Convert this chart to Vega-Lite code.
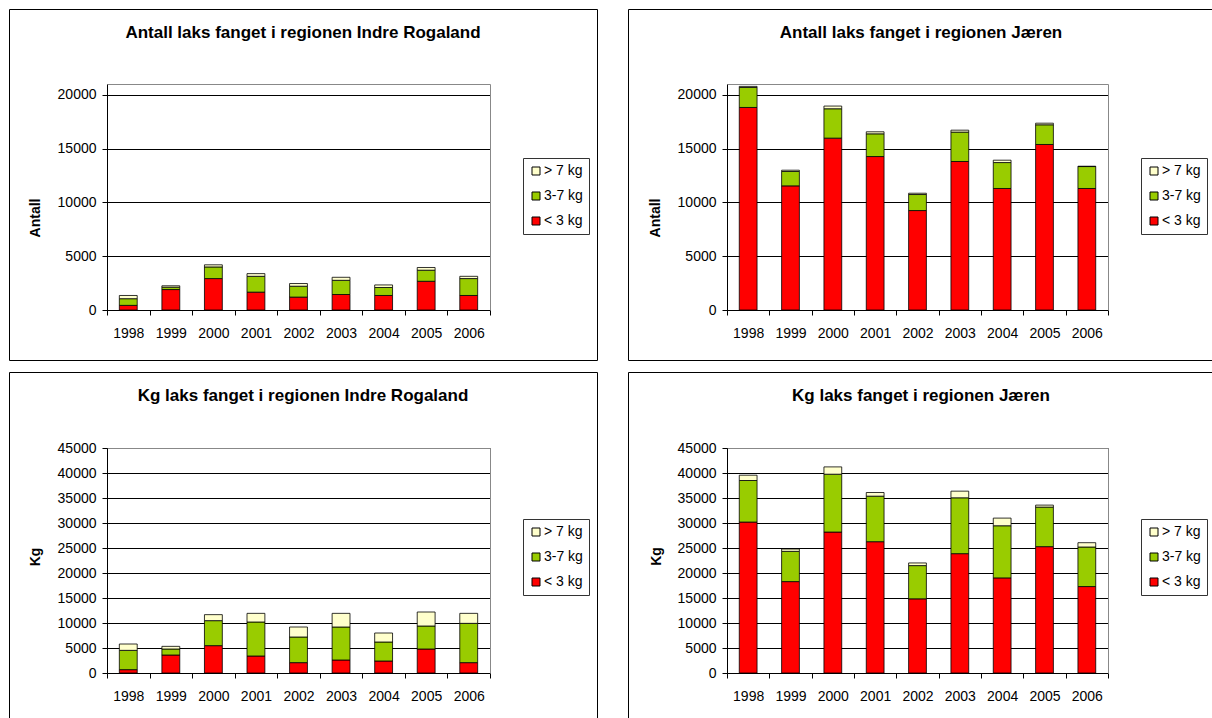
{
  "$schema": "https://vega.github.io/schema/vega-lite/v6.json",
  "background": "white",
  "padding": {"left": 8, "top": 8, "right": 0, "bottom": 0},
  "config": {
    "view": {"stroke": "#000", "strokeWidth": 1},
    "font": "Liberation Sans",
    "title": {"font": "Liberation Sans", "fontSize": 17, "fontWeight": "bold", "color": "#000", "anchor": "middle", "frame": "group", "offset": -33, "baseline": "alphabetic"},
    "axis": {"labelFont": "Liberation Sans", "labelFontSize": 14, "labelColor": "#000", "domainColor": "#000", "domainWidth": 1, "tickColor": "#000", "tickSize": 5, "tickWidth": 1, "gridColor": "#000", "gridWidth": 1, "gridOpacity": 1, "titleFont": "Liberation Sans", "titleFontSize": 14, "titleFontWeight": "bold", "titleColor": "#000"},
    "axisX": {"labelAngle": 0, "tickBand": "extent", "grid": false, "labelPadding": 11},
    "axisY": {"grid": true, "format": "d", "labelPadding": 6, "titleAngle": -90, "titleAlign": "center", "titleBaseline": "middle"},
    "legend": {"orient": "none", "symbolType": "square", "symbolSize": 64, "symbolStrokeColor": "#000", "symbolStrokeWidth": 1, "labelFont": "Liberation Sans", "labelFontSize": 14, "labelColor": "#000", "strokeColor": "#333", "padding": 6, "rowPadding": 11, "labelOffset": 1, "fillColor": "#fff"}
  },
  "datasets": {
    "A": [
      {"year": "1998", "size": "< 3 kg", "n": 430, "r": 1}, {"year": "1998", "size": "3-7 kg", "n": 620, "r": 2}, {"year": "1998", "size": "> 7 kg", "n": 300, "r": 3},
      {"year": "1999", "size": "< 3 kg", "n": 1900, "r": 1}, {"year": "1999", "size": "3-7 kg", "n": 220, "r": 2}, {"year": "1999", "size": "> 7 kg", "n": 130, "r": 3},
      {"year": "2000", "size": "< 3 kg", "n": 2920, "r": 1}, {"year": "2000", "size": "3-7 kg", "n": 1080, "r": 2}, {"year": "2000", "size": "> 7 kg", "n": 200, "r": 3},
      {"year": "2001", "size": "< 3 kg", "n": 1660, "r": 1}, {"year": "2001", "size": "3-7 kg", "n": 1470, "r": 2}, {"year": "2001", "size": "> 7 kg", "n": 250, "r": 3},
      {"year": "2002", "size": "< 3 kg", "n": 1200, "r": 1}, {"year": "2002", "size": "3-7 kg", "n": 1010, "r": 2}, {"year": "2002", "size": "> 7 kg", "n": 250, "r": 3},
      {"year": "2003", "size": "< 3 kg", "n": 1440, "r": 1}, {"year": "2003", "size": "3-7 kg", "n": 1320, "r": 2}, {"year": "2003", "size": "> 7 kg", "n": 280, "r": 3},
      {"year": "2004", "size": "< 3 kg", "n": 1350, "r": 1}, {"year": "2004", "size": "3-7 kg", "n": 740, "r": 2}, {"year": "2004", "size": "> 7 kg", "n": 240, "r": 3},
      {"year": "2005", "size": "< 3 kg", "n": 2670, "r": 1}, {"year": "2005", "size": "3-7 kg", "n": 1030, "r": 2}, {"year": "2005", "size": "> 7 kg", "n": 250, "r": 3},
      {"year": "2006", "size": "< 3 kg", "n": 1350, "r": 1}, {"year": "2006", "size": "3-7 kg", "n": 1570, "r": 2}, {"year": "2006", "size": "> 7 kg", "n": 210, "r": 3}
    ],
    "B": [
      {"year": "1998", "size": "< 3 kg", "n": 18820, "r": 1}, {"year": "1998", "size": "3-7 kg", "n": 1860, "r": 2}, {"year": "1998", "size": "> 7 kg", "n": 100, "r": 3},
      {"year": "1999", "size": "< 3 kg", "n": 11535, "r": 1}, {"year": "1999", "size": "3-7 kg", "n": 1335, "r": 2}, {"year": "1999", "size": "> 7 kg", "n": 120, "r": 3},
      {"year": "2000", "size": "< 3 kg", "n": 15970, "r": 1}, {"year": "2000", "size": "3-7 kg", "n": 2730, "r": 2}, {"year": "2000", "size": "> 7 kg", "n": 250, "r": 3},
      {"year": "2001", "size": "< 3 kg", "n": 14260, "r": 1}, {"year": "2001", "size": "3-7 kg", "n": 2110, "r": 2}, {"year": "2001", "size": "> 7 kg", "n": 190, "r": 3},
      {"year": "2002", "size": "< 3 kg", "n": 9240, "r": 1}, {"year": "2002", "size": "3-7 kg", "n": 1490, "r": 2}, {"year": "2002", "size": "> 7 kg", "n": 120, "r": 3},
      {"year": "2003", "size": "< 3 kg", "n": 13800, "r": 1}, {"year": "2003", "size": "3-7 kg", "n": 2730, "r": 2}, {"year": "2003", "size": "> 7 kg", "n": 180, "r": 3},
      {"year": "2004", "size": "< 3 kg", "n": 11290, "r": 1}, {"year": "2004", "size": "3-7 kg", "n": 2410, "r": 2}, {"year": "2004", "size": "> 7 kg", "n": 220, "r": 3},
      {"year": "2005", "size": "< 3 kg", "n": 15380, "r": 1}, {"year": "2005", "size": "3-7 kg", "n": 1830, "r": 2}, {"year": "2005", "size": "> 7 kg", "n": 150, "r": 3},
      {"year": "2006", "size": "< 3 kg", "n": 11290, "r": 1}, {"year": "2006", "size": "3-7 kg", "n": 2040, "r": 2}, {"year": "2006", "size": "> 7 kg", "n": 30, "r": 3}
    ],
    "C": [
      {"year": "1998", "size": "< 3 kg", "n": 670, "r": 1}, {"year": "1998", "size": "3-7 kg", "n": 3860, "r": 2}, {"year": "1998", "size": "> 7 kg", "n": 1270, "r": 3},
      {"year": "1999", "size": "< 3 kg", "n": 3600, "r": 1}, {"year": "1999", "size": "3-7 kg", "n": 1200, "r": 2}, {"year": "1999", "size": "> 7 kg", "n": 530, "r": 3},
      {"year": "2000", "size": "< 3 kg", "n": 5470, "r": 1}, {"year": "2000", "size": "3-7 kg", "n": 5000, "r": 2}, {"year": "2000", "size": "> 7 kg", "n": 1200, "r": 3},
      {"year": "2001", "size": "< 3 kg", "n": 3400, "r": 1}, {"year": "2001", "size": "3-7 kg", "n": 6800, "r": 2}, {"year": "2001", "size": "> 7 kg", "n": 1730, "r": 3},
      {"year": "2002", "size": "< 3 kg", "n": 2070, "r": 1}, {"year": "2002", "size": "3-7 kg", "n": 5130, "r": 2}, {"year": "2002", "size": "> 7 kg", "n": 2000, "r": 3},
      {"year": "2003", "size": "< 3 kg", "n": 2600, "r": 1}, {"year": "2003", "size": "3-7 kg", "n": 6600, "r": 2}, {"year": "2003", "size": "> 7 kg", "n": 2730, "r": 3},
      {"year": "2004", "size": "< 3 kg", "n": 2400, "r": 1}, {"year": "2004", "size": "3-7 kg", "n": 3800, "r": 2}, {"year": "2004", "size": "> 7 kg", "n": 1800, "r": 3},
      {"year": "2005", "size": "< 3 kg", "n": 4800, "r": 1}, {"year": "2005", "size": "3-7 kg", "n": 4600, "r": 2}, {"year": "2005", "size": "> 7 kg", "n": 2800, "r": 3},
      {"year": "2006", "size": "< 3 kg", "n": 2070, "r": 1}, {"year": "2006", "size": "3-7 kg", "n": 7860, "r": 2}, {"year": "2006", "size": "> 7 kg", "n": 2000, "r": 3}
    ],
    "D": [
      {"year": "1998", "size": "< 3 kg", "n": 30190, "r": 1}, {"year": "1998", "size": "3-7 kg", "n": 8310, "r": 2}, {"year": "1998", "size": "> 7 kg", "n": 1060, "r": 3},
      {"year": "1999", "size": "< 3 kg", "n": 18280, "r": 1}, {"year": "1999", "size": "3-7 kg", "n": 6050, "r": 2}, {"year": "1999", "size": "> 7 kg", "n": 470, "r": 3},
      {"year": "2000", "size": "< 3 kg", "n": 28190, "r": 1}, {"year": "2000", "size": "3-7 kg", "n": 11570, "r": 2}, {"year": "2000", "size": "> 7 kg", "n": 1460, "r": 3},
      {"year": "2001", "size": "< 3 kg", "n": 26260, "r": 1}, {"year": "2001", "size": "3-7 kg", "n": 9110, "r": 2}, {"year": "2001", "size": "> 7 kg", "n": 730, "r": 3},
      {"year": "2002", "size": "< 3 kg", "n": 14830, "r": 1}, {"year": "2002", "size": "3-7 kg", "n": 6650, "r": 2}, {"year": "2002", "size": "> 7 kg", "n": 530, "r": 3},
      {"year": "2003", "size": "< 3 kg", "n": 23870, "r": 1}, {"year": "2003", "size": "3-7 kg", "n": 11170, "r": 2}, {"year": "2003", "size": "> 7 kg", "n": 1330, "r": 3},
      {"year": "2004", "size": "< 3 kg", "n": 19020, "r": 1}, {"year": "2004", "size": "3-7 kg", "n": 10430, "r": 2}, {"year": "2004", "size": "> 7 kg", "n": 1530, "r": 3},
      {"year": "2005", "size": "< 3 kg", "n": 25270, "r": 1}, {"year": "2005", "size": "3-7 kg", "n": 7910, "r": 2}, {"year": "2005", "size": "> 7 kg", "n": 400, "r": 3},
      {"year": "2006", "size": "< 3 kg", "n": 17290, "r": 1}, {"year": "2006", "size": "3-7 kg", "n": 7910, "r": 2}, {"year": "2006", "size": "> 7 kg", "n": 860, "r": 3}
    ]
  },
  "spacing": 10,
  "resolve": {"scale": {"color": "independent"}, "legend": {"color": "independent"}},
  "vconcat": [
    {
      "spacing": 29,
      "resolve": {"scale": {"color": "independent"}, "legend": {"color": "independent"}},
      "hconcat": [
        {
          "width": 588, "height": 351,
          "data": {"name": "A"},
          "title": {"text": "Antall laks fanget i regionen Indre Rogaland"},
          "layer": [
            {
              "mark": {"type": "bar", "width": {"band": 0.42}, "stroke": "#000", "strokeWidth": 0.8},
              "encoding": {
                "x": {"field": "year", "type": "ordinal", "scale": {"range": [98, 481], "paddingInner": 0, "paddingOuter": 0}, "axis": {"orient": "bottom", "offset": -50, "title": null}},
                "y": {"field": "n", "type": "quantitative", "stack": "zero", "scale": {"domain": [0, 21000], "range": [301, 75], "nice": false}, "axis": {"orient": "left", "offset": -98, "values": [0, 5000, 10000, 15000, 20000], "title": "Antall", "titleX": -71.5, "titleY": 208.5}},
                "color": {"field": "size", "type": "nominal", "scale": {"domain": ["> 7 kg", "3-7 kg", "< 3 kg"], "range": ["#FFFFCC", "#99CC00", "#FF0000"]}, "legend": {"title": null, "legendX": 514, "legendY": 149}},
                "order": {"field": "r", "type": "quantitative"}
              }
            },
            {
              "mark": {"type": "point", "opacity": 0},
              "encoding": {
                "x": {"field": "year", "type": "ordinal", "axis": {"orient": "top", "offset": -75, "labels": false, "ticks": false, "grid": false, "domainColor": "#888", "title": null}},
                "y": {"field": "n", "type": "quantitative", "axis": {"orient": "right", "offset": -107, "labels": false, "ticks": false, "grid": false, "domainColor": "#888", "title": null}}
              }
            }
          ],
          "resolve": {"axis": {"x": "independent", "y": "independent"}}
        },
        {
          "width": 586, "height": 351,
          "data": {"name": "B"},
          "title": {"text": "Antall laks fanget i regionen Jæren"},
          "layer": [
            {
              "mark": {"type": "bar", "width": {"band": 0.42}, "stroke": "#000", "strokeWidth": 0.8},
              "encoding": {
                "x": {"field": "year", "type": "ordinal", "scale": {"range": [99, 480], "paddingInner": 0, "paddingOuter": 0}, "axis": {"orient": "bottom", "offset": -50, "title": null}},
                "y": {"field": "n", "type": "quantitative", "stack": "zero", "scale": {"domain": [0, 21000], "range": [301, 75], "nice": false}, "axis": {"orient": "left", "offset": -99, "values": [0, 5000, 10000, 15000, 20000], "title": "Antall", "titleX": -72, "titleY": 208.5}},
                "color": {"field": "size", "type": "nominal", "scale": {"domain": ["> 7 kg", "3-7 kg", "< 3 kg"], "range": ["#FFFFCC", "#99CC00", "#FF0000"]}, "legend": {"title": null, "legendX": 513, "legendY": 149}},
                "order": {"field": "r", "type": "quantitative"}
              }
            },
            {
              "mark": {"type": "point", "opacity": 0},
              "encoding": {
                "x": {"field": "year", "type": "ordinal", "axis": {"orient": "top", "offset": -75, "labels": false, "ticks": false, "grid": false, "domainColor": "#888", "title": null}},
                "y": {"field": "n", "type": "quantitative", "axis": {"orient": "right", "offset": -106, "labels": false, "ticks": false, "grid": false, "domainColor": "#888", "title": null}}
              }
            }
          ],
          "resolve": {"axis": {"x": "independent", "y": "independent"}}
        }
      ]
    },
    {
      "spacing": 29,
      "resolve": {"scale": {"color": "independent"}, "legend": {"color": "independent"}},
      "hconcat": [
        {
          "width": 588, "height": 348,
          "data": {"name": "C"},
          "title": {"text": "Kg laks fanget i regionen Indre Rogaland"},
          "layer": [
            {
              "mark": {"type": "bar", "width": {"band": 0.42}, "stroke": "#000", "strokeWidth": 0.8},
              "encoding": {
                "x": {"field": "year", "type": "ordinal", "scale": {"range": [98, 481], "paddingInner": 0, "paddingOuter": 0}, "axis": {"orient": "bottom", "offset": -47, "title": null}},
                "y": {"field": "n", "type": "quantitative", "stack": "zero", "scale": {"domain": [0, 45000], "range": [301, 76], "nice": false}, "axis": {"orient": "left", "offset": -98, "values": [0, 5000, 10000, 15000, 20000, 25000, 30000, 35000, 40000, 45000], "title": "Kg", "titleX": -71.5, "titleY": 184.5}},
                "color": {"field": "size", "type": "nominal", "scale": {"domain": ["> 7 kg", "3-7 kg", "< 3 kg"], "range": ["#FFFFCC", "#99CC00", "#FF0000"]}, "legend": {"title": null, "legendX": 514, "legendY": 147}},
                "order": {"field": "r", "type": "quantitative"}
              }
            },
            {
              "mark": {"type": "point", "opacity": 0},
              "encoding": {
                "x": {"field": "year", "type": "ordinal", "axis": {"orient": "top", "offset": -76, "labels": false, "ticks": false, "grid": false, "domainColor": "#888", "title": null}},
                "y": {"field": "n", "type": "quantitative", "axis": {"orient": "right", "offset": -107, "labels": false, "ticks": false, "grid": false, "domainColor": "#888", "title": null}}
              }
            }
          ],
          "resolve": {"axis": {"x": "independent", "y": "independent"}}
        },
        {
          "width": 586, "height": 348,
          "data": {"name": "D"},
          "title": {"text": "Kg laks fanget i regionen Jæren"},
          "layer": [
            {
              "mark": {"type": "bar", "width": {"band": 0.42}, "stroke": "#000", "strokeWidth": 0.8},
              "encoding": {
                "x": {"field": "year", "type": "ordinal", "scale": {"range": [99, 480], "paddingInner": 0, "paddingOuter": 0}, "axis": {"orient": "bottom", "offset": -47, "title": null}},
                "y": {"field": "n", "type": "quantitative", "stack": "zero", "scale": {"domain": [0, 45000], "range": [301, 76], "nice": false}, "axis": {"orient": "left", "offset": -99, "values": [0, 5000, 10000, 15000, 20000, 25000, 30000, 35000, 40000, 45000], "title": "Kg", "titleX": -71, "titleY": 184}},
                "color": {"field": "size", "type": "nominal", "scale": {"domain": ["> 7 kg", "3-7 kg", "< 3 kg"], "range": ["#FFFFCC", "#99CC00", "#FF0000"]}, "legend": {"title": null, "legendX": 513, "legendY": 147}},
                "order": {"field": "r", "type": "quantitative"}
              }
            },
            {
              "mark": {"type": "point", "opacity": 0},
              "encoding": {
                "x": {"field": "year", "type": "ordinal", "axis": {"orient": "top", "offset": -76, "labels": false, "ticks": false, "grid": false, "domainColor": "#888", "title": null}},
                "y": {"field": "n", "type": "quantitative", "axis": {"orient": "right", "offset": -106, "labels": false, "ticks": false, "grid": false, "domainColor": "#888", "title": null}}
              }
            }
          ],
          "resolve": {"axis": {"x": "independent", "y": "independent"}}
        }
      ]
    }
  ]
}
